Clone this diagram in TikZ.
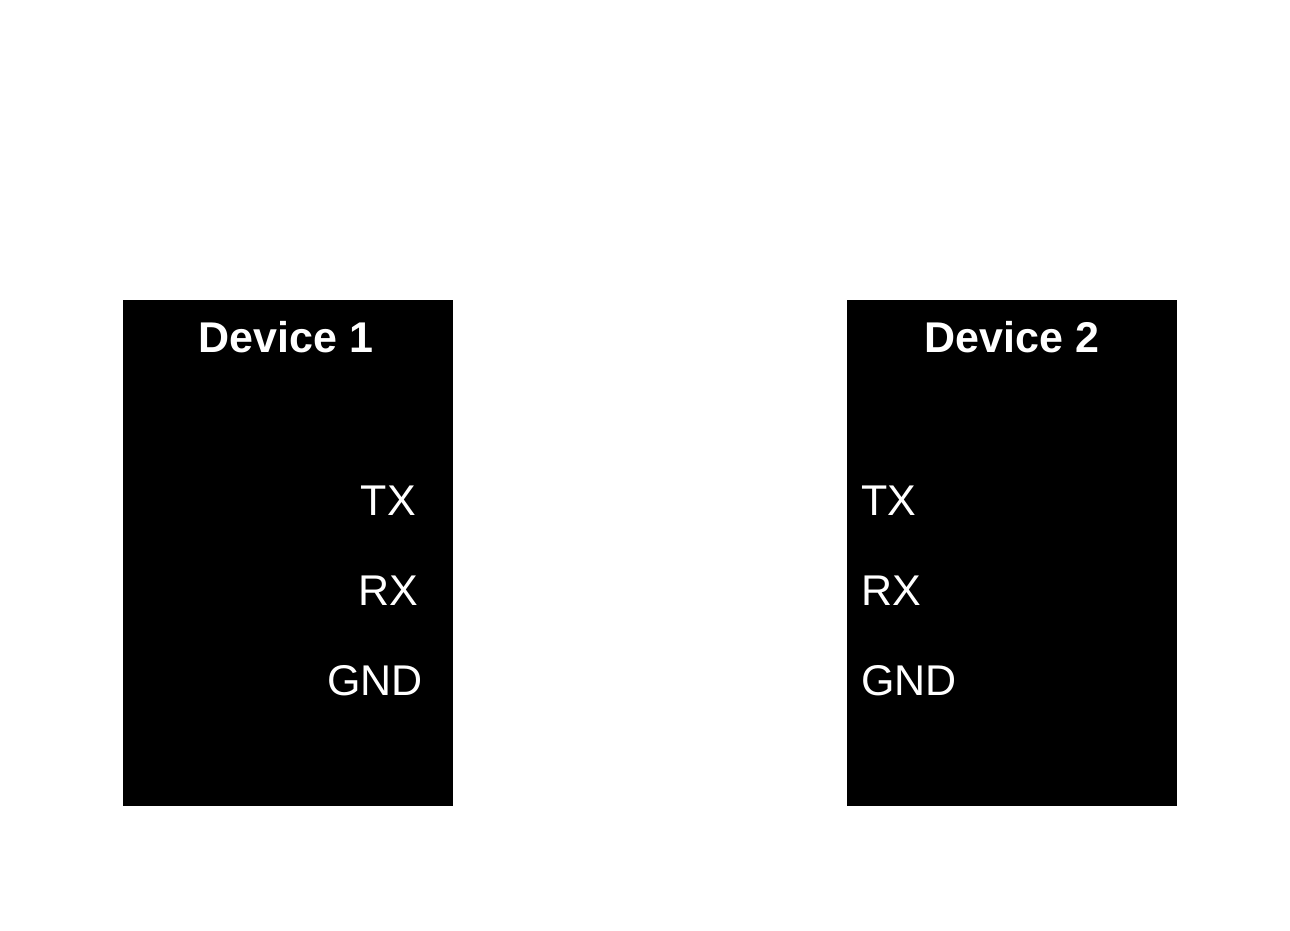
\documentclass[tikz,border=0pt]{standalone}
\usepackage{fontspec}
\setmainfont{Liberation Sans}
\begin{document}
\begin{tikzpicture}[x=1pt,y=-1pt,
  dev/.style={fill=black,draw=none},
  pin/.style={text=white,font=\fontsize{43}{48}\selectfont,inner sep=0pt},
  ttl/.style={text=white,font=\bfseries\fontsize{43}{48}\selectfont,inner sep=0pt}]
\useasboundingbox[fill=white] (0,0) rectangle (1290,930);
\fill[dev] (123,300) rectangle (453,806);
\fill[dev] (847,300) rectangle (1177,806);
\node[ttl] (t1) at (286,337) {Device 1};
\node[ttl] (t2) at (1012,337) {Device 2};
\node[pin,anchor=east] (tx1) at (416,501) {TX};
\node[pin,anchor=east] (rx1) at (418,591) {RX};
\node[pin,anchor=east] (g1) at (423,681) {GND};
\node[pin,anchor=west] (tx2) at (861,501) {TX};
\node[pin,anchor=west] (rx2) at (861,591) {RX};
\node[pin,anchor=west] (g2) at (861,681) {GND};
\end{tikzpicture}
\end{document}
